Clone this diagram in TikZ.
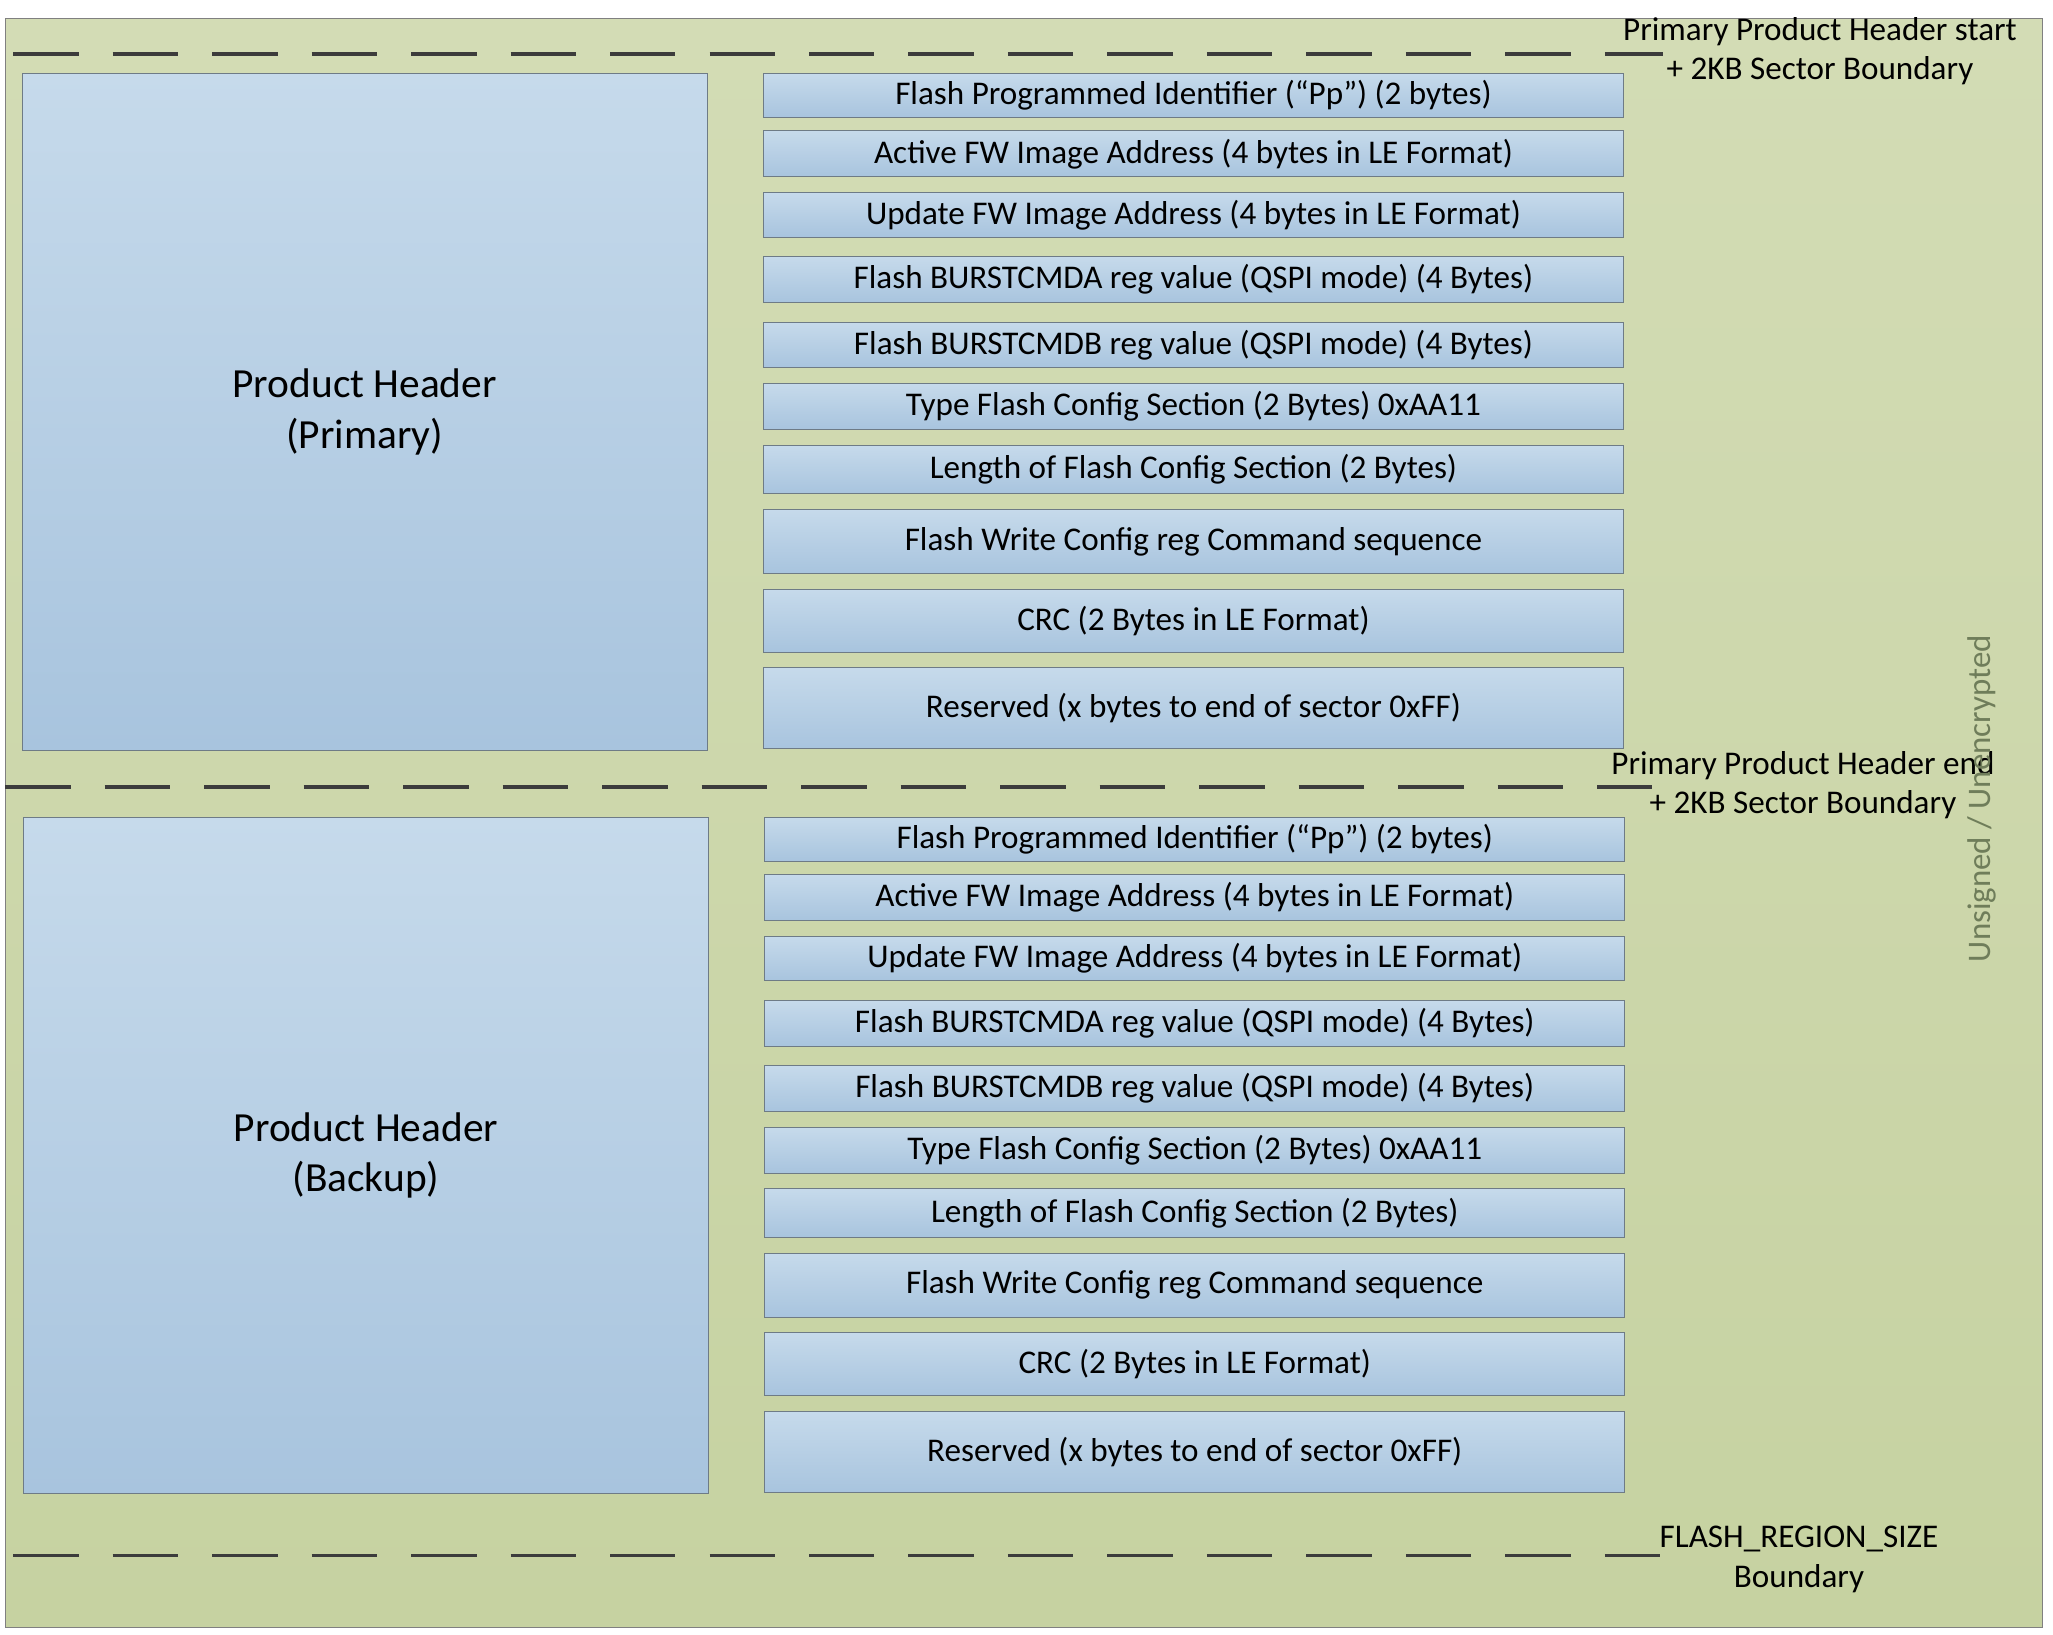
\documentclass[tikz,border=0pt]{standalone}
\usepackage{fontspec}
\setmainfont{Carlito}
\usepackage{tikz}
\usetikzlibrary{positioning}

\definecolor{bggreen}{HTML}{D3DCB5}
\definecolor{bggreendark}{HTML}{C6D2A1}
\definecolor{boxtop}{HTML}{C6DAEB}
\definecolor{boxbottom}{HTML}{A8C4DE}
\definecolor{boxline}{HTML}{6E7B86}
\definecolor{dashgray}{HTML}{3C3C3C}
\definecolor{sidetext}{HTML}{6F7D5A}

\begin{document}
\begin{tikzpicture}[
    x=0.02cm, y=-0.02cm,
    box/.style={rectangle, draw=boxline, top color=boxtop, bottom color=boxbottom, inner sep=0pt},
    field/.style={box, minimum width=13.14cm, font=\fontsize{14.4}{16}\selectfont},
    header/.style={box, minimum width=10.46cm, minimum height=10.34cm, align=center, font=\fontsize{18}{22}\selectfont},
    boundary/.style={draw=dashgray, line width=1.6pt, dash pattern=on 1cm off 0.52cm},
    note/.style={align=center, font=\fontsize{14.4}{17}\selectfont}
]
    \useasboundingbox (0,0) rectangle (1568,1248);
    \node[draw=gray, top color=bggreen, bottom color=bggreendark, minimum width=31.12cm, minimum height=24.58cm, inner sep=0pt] (region) at (782,628.5) {};

    % boundaries
    \coordinate (startL) at (10,41);
    \coordinate (startR) at (1270,41);
    \coordinate (endL) at (4,601);
    \coordinate (endR) at (1262,601);
    \coordinate (flashL) at (10,1188);
    \coordinate (flashR) at (1268,1188);
    \draw[boundary] (startL) -- (startR);
    \draw[boundary] (endL) -- (endR);
    \draw[boundary] (flashL) -- (flashR);

    \node[note] (startnote) at (1390,39) {Primary Product Header start\\+ 2KB Sector Boundary};
    \node[note] (endnote) at (1377,600) {Primary Product Header end\\+ 2KB Sector Boundary};
    \node[note] (flashnote) at (1374,1191) {FLASH\_REGION\_SIZE\\Boundary};
    \node[rotate=90, text=sidetext, font=\fontsize{14.3}{16}\selectfont] (signnote) at (1514,610) {Unsigned / Unencrypted};

    % header blocks
    \node[header] (primary) at (278.5,314.5) {Product Header\\(Primary)};
    \node[header] (backup) at (279.5,882.5) {Product Header\\(Backup)};

    % header fields
    \foreach \off/\sec/\dx in {0/p/0,568/b/1}
        \foreach \yt/\yb/\txt [count=\i] in {
            56/90/{Flash Programmed Identifier (“Pp”) (2 bytes)},
            100/135/{Active FW Image Address (4 bytes in LE Format)},
            147/181/{Update FW Image Address (4 bytes in LE Format)},
            196/231/{Flash BURSTCMDA reg value (QSPI mode) (4 Bytes)},
            246/281/{Flash BURSTCMDB reg value (QSPI mode) (4 Bytes)},
            293/328/{Type Flash Config Section (2 Bytes) 0xAA11},
            340/377/{Length of Flash Config Section (2 Bytes)},
            389/438/{Flash Write Config reg Command sequence},
            450/498/{CRC (2 Bytes in LE Format)},
            510/572/{Reserved (x bytes to end of sector 0xFF)}}
            \node[field, minimum height={(\yb-\yt)*0.02cm}] (row-\sec-\i) at (911.5+\dx,\off+\yt/2+\yb/2) {\txt};
\end{tikzpicture}
\end{document}
